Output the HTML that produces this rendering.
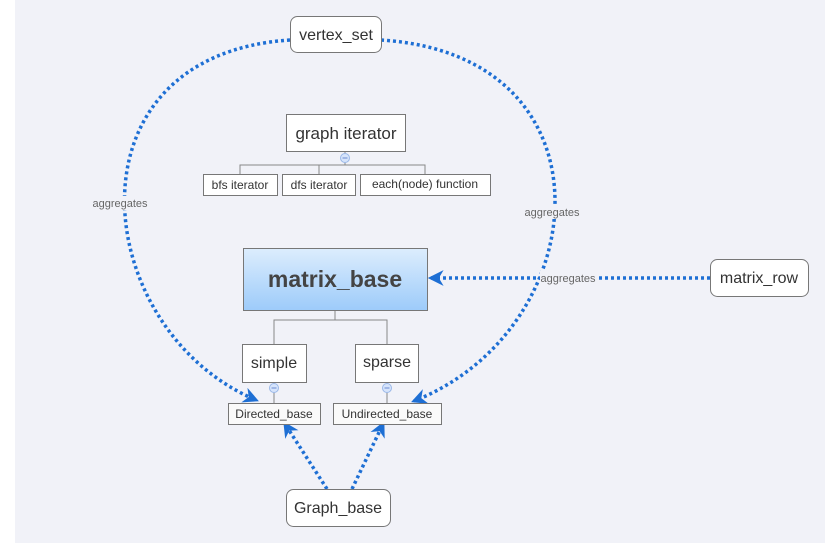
<!DOCTYPE html>
<html><head><meta charset="utf-8"><style>
html,body{margin:0;padding:0;width:825px;height:543px;overflow:hidden;background:#fff}
svg{display:block}
text{font-family:"Liberation Sans","DejaVu Sans",sans-serif;fill:#333}
</style></head><body>
<svg width="825" height="543" viewBox="0 0 825 543" xmlns="http://www.w3.org/2000/svg">
<defs>
<linearGradient id="g" x1="0" y1="0" x2="0" y2="1"><stop offset="0" stop-color="#dcedfd"/><stop offset="1" stop-color="#9dcbfa"/></linearGradient>
<marker id="a" viewBox="0 0 10 10" refX="8" refY="5" markerWidth="4.5" markerHeight="4.5" orient="auto" markerUnits="strokeWidth">
<path d="M0,0 L10,5 L0,10 L3,5 Z" fill="#1e6fd4"/></marker>
</defs>
<rect x="15" y="0" width="810" height="543" fill="#f1f2f8"/>
<g fill="none" stroke="#1e6fd4" stroke-width="3.5" stroke-dasharray="3 3">
<path d="M290,40 C60,55 90,330 256,400" marker-end="url(#a)"/>
<path d="M381,40 C620,55 595,330 414,401" marker-end="url(#a)"/>
<path d="M710,278 L431,278" marker-end="url(#a)"/>
<path d="M327,489 L285,424" marker-end="url(#a)"/>
<path d="M352,489 L383,424" marker-end="url(#a)"/>
</g>
<g font-size="11">
<rect x="88" y="196" width="64" height="14" fill="#f1f2f8"/><text x="120" y="207" text-anchor="middle" style="fill:#666">aggregates</text>
<rect x="520" y="205" width="64" height="14" fill="#f1f2f8"/><text x="552" y="216" text-anchor="middle" style="fill:#666">aggregates</text>
<rect x="540" y="271" width="56" height="14" fill="#f1f2f8"/><text x="568" y="282" text-anchor="middle" style="fill:#666">aggregates</text>
</g>
<g stroke="#888" stroke-width="1" fill="none">
<path d="M345,151 V165 M240,174 V165 H425 V174 M319,165 V174"/>
<path d="M335,310 V320 M274,344 V320 H387 V344"/>
<path d="M274,382 V403 M387,382 V403"/>
</g>
<g fill="#d6e4fb" stroke="#9ab8e8"><circle cx="345" cy="158" r="4.5"/><circle cx="274" cy="388" r="4.5"/><circle cx="387" cy="388" r="4.5"/></g>
<g stroke="#6a8ad0"><path d="M342.5,158h5M271.5,388h5M384.5,388h5"/></g>
<g stroke="#777" stroke-width="1">
<rect x="290.5" y="16.5" width="91" height="36" rx="7" fill="#fff"/>
<rect x="286.5" y="114.5" width="119" height="37" fill="#fff"/>
<rect x="203.5" y="174.5" width="74" height="21" fill="#fff"/>
<rect x="282.5" y="174.5" width="73" height="21" fill="#fff"/>
<rect x="360.5" y="174.5" width="130" height="21" fill="#fff"/>
<rect x="243.5" y="248.5" width="184" height="62" fill="url(#g)"/>
<rect x="242.5" y="344.5" width="64" height="38" fill="#fff"/>
<rect x="355.5" y="344.5" width="63" height="38" fill="#fff"/>
<rect x="228.5" y="403.5" width="92" height="21" fill="#fafafa"/>
<rect x="333.5" y="403.5" width="108" height="21" fill="#fafafa"/>
<rect x="286.5" y="489.5" width="104" height="37" rx="7" fill="#fff"/>
<rect x="710.5" y="259.5" width="98" height="37" rx="7" fill="#fff"/>
</g>
<text x="336" y="40" font-size="16" text-anchor="middle">vertex_set</text>
<text x="346" y="139" font-size="17" text-anchor="middle">graph iterator</text>
<text x="240" y="189" font-size="12" text-anchor="middle">bfs iterator</text>
<text x="319" y="189" font-size="12" text-anchor="middle">dfs iterator</text>
<text x="425" y="188" font-size="12" text-anchor="middle">each(node) function</text>
<text x="335" y="287" font-size="23" font-weight="bold" text-anchor="middle" style="fill:#444">matrix_base</text>
<text x="274" y="368" font-size="16" text-anchor="middle">simple</text>
<text x="387" y="367" font-size="16" text-anchor="middle">sparse</text>
<text x="274" y="418" font-size="12" text-anchor="middle">Directed_base</text>
<text x="387" y="418" font-size="12" text-anchor="middle">Undirected_base</text>
<text x="338" y="513" font-size="16" text-anchor="middle">Graph_base</text>
<text x="759" y="283" font-size="16" text-anchor="middle">matrix_row</text>
</svg>
</body></html>
